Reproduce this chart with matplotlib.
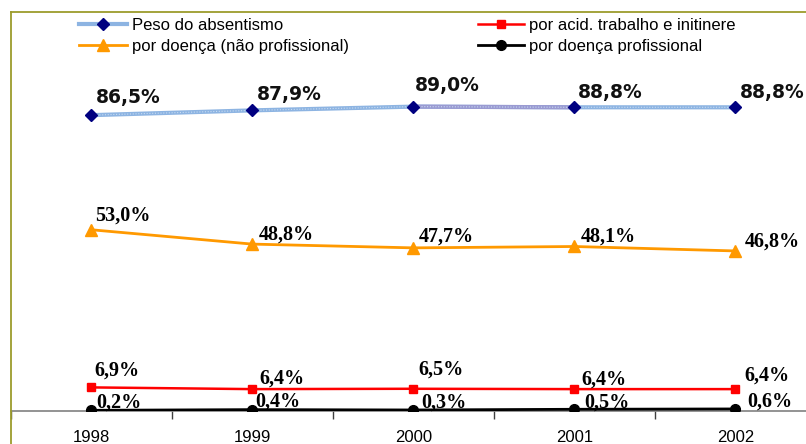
import matplotlib
matplotlib.use('Agg')
import matplotlib.pyplot as plt
from matplotlib.lines import Line2D

years = ['1998', '1999', '2000', '2001', '2002']
peso = [86.5, 87.9, 89.0, 88.8, 88.8]
doenca_np = [53.0, 48.8, 47.7, 48.1, 46.8]
acid = [6.9, 6.4, 6.5, 6.4, 6.4]
doenca_prof = [0.2, 0.4, 0.3, 0.5, 0.6]

labels_legend = ['Peso do absentismo', 'por acid. trabalho e initinere',
                 'por doença (não profissional)', 'por doença profissional']

# label offsets in pixels (style)
off_peso = [(37, 18), (37, 16), (34, 21), (36, 15), (37, 15)]
off_dnp = [(32, 14), (34, 10), (33, 11), (34, 10), (37, 9)]
off_acid = [(26, 17), (30, 11), (28, 19), (30, 10), (31, 14)]
off_prof = [(28, 8), (26, 8), (31, 7), (33, 7), (34, 7)]

W, H = 806, 444
fig = plt.figure(figsize=(W / 100, H / 100), dpi=100)
fig.patch.set_facecolor('white')
ax = fig.add_axes([10.5 / W, 33 / H, 805.5 / W, 410.4 / H])
x = list(range(len(years)))

BLUE = '#8db4e2'
PURPLE = '#9a9ad2'
NAVY = '#000080'
ORANGE = '#ff9900'
RED = '#ff0000'
BLACK = '#000000'

# series lines
ax.plot(x, peso, color=BLUE, lw=3.0, zorder=3, solid_capstyle='butt')
ax.plot(x[2:4], peso[2:4], color=PURPLE, lw=3.0, zorder=3.05, solid_capstyle='butt')
ax.plot(x, peso, color='#c8dcf2', lw=0.8, ls=(0, (1, 1.5)), zorder=3.1)
ax.plot(x, peso, ls='none', marker='D', ms=6.3, color=NAVY, zorder=4)

ax.plot(x, doenca_np, color=ORANGE, lw=2.0, marker='^', ms=8, zorder=3)
ax.plot(x, acid, color=RED, lw=1.8, marker='s', ms=5.8, zorder=3)
ax.plot(x, doenca_prof, color=BLACK, lw=2.0, marker='o', ms=7, zorder=3)

def fmt(v):
    return f"{v:.1f}%".replace('.', ',')

for xi, v, o in zip(x, peso, off_peso):
    ax.annotate(fmt(v), (xi, v), xytext=o, textcoords='offset pixels',
                ha='center', va='center', fontsize=13.5, fontweight='bold',
                family='DejaVu Sans', color='#111111', zorder=5)
for series, offs in ((doenca_np, off_dnp), (acid, off_acid), (doenca_prof, off_prof)):
    for xi, v, o in zip(x, series, offs):
        ax.annotate(fmt(v), (xi, v), xytext=o, textcoords='offset pixels',
                    ha='center', va='center', fontsize=14.5, fontweight='bold',
                    family='Liberation Serif', color='black', zorder=5)

ax.set_xlim(-0.5, len(years) - 0.5)
ax.set_ylim(0, 120)
ax.set_yticks([])
for s in ('left', 'right', 'top'):
    ax.spines[s].set_visible(False)
ax.spines['bottom'].set_color('#808080')
ax.spines['bottom'].set_linewidth(1.2)
ax.set_xticks(x)
ax.set_xticklabels(years, family='Liberation Sans', fontsize=12)
ax.set_xticks([i - 0.5 for i in range(len(years) + 1)], minor=True)
ax.tick_params(axis='x', which='major', length=0, pad=14)
ax.tick_params(axis='x', which='minor', length=5.5, direction='out', color='#404040', width=1)
ax.patch.set_alpha(0)

# olive frame
OLIVE = '#9c9c2c'
fig.add_artist(Line2D([10.5 / W, 10.5 / W], [0, 1 - 12 / H], transform=fig.transFigure, color=OLIVE, lw=1.3))
fig.add_artist(Line2D([10.5 / W, 1], [1 - 12 / H, 1 - 12 / H], transform=fig.transFigure, color=OLIVE, lw=1.3))

# legend
h_peso = Line2D([], [], color=BLUE, lw=3, marker='D', ms=6.3, mfc=NAVY, mec=NAVY)
h_acid = Line2D([], [], color=RED, lw=1.8, marker='s', ms=5.8)
h_dnp = Line2D([], [], color=ORANGE, lw=2.0, marker='^', ms=8)
h_prof = Line2D([], [], color=BLACK, lw=2.0, marker='o', ms=7)

lfont = {'family': 'Liberation Sans', 'size': 12}
kw = dict(loc='upper left', frameon=False, borderpad=0, borderaxespad=0,
          handletextpad=0.3, labelspacing=0.35, prop=lfont)
fig.legend([h_peso, h_dnp], [labels_legend[0], labels_legend[2]],
           bbox_to_anchor=(79 / W, 1 - 18 / H), handlelength=2.9, **kw)
fig.legend([h_acid, h_prof], [labels_legend[1], labels_legend[3]],
           bbox_to_anchor=(478 / W, 1 - 18 / H), handlelength=2.75, **kw)

fig.savefig('out.png', dpi=100)
